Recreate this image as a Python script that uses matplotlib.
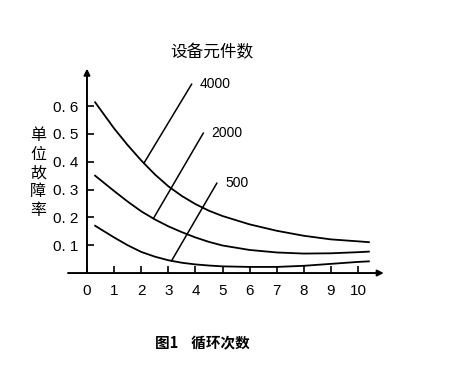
import matplotlib.pyplot as plt

plt.rcParams['font.family'] = ['Liberation Sans', 'Noto Sans CJK SC', 'DejaVu Sans']

# 循环次数 (x) and 单位故障率 for each 设备元件数 curve
x = [0.3, 1, 1.5, 2, 2.5, 3, 3.5, 4, 4.5, 5, 6, 7, 8, 9, 10, 10.4]
rate_4000 = [0.614, 0.52, 0.46, 0.405, 0.355, 0.312, 0.277, 0.248, 0.224, 0.205,
             0.175, 0.152, 0.134, 0.121, 0.114, 0.111]
rate_2000 = [0.35, 0.295, 0.257, 0.222, 0.193, 0.168, 0.147, 0.128, 0.112, 0.099,
             0.083, 0.074, 0.07, 0.071, 0.075, 0.077]
rate_500 = [0.17, 0.128, 0.1, 0.076, 0.059, 0.046, 0.037, 0.031, 0.027, 0.024,
            0.022, 0.022, 0.026, 0.033, 0.04, 0.042]

curve_names = ["4000", "2000", "500"]
# leader line: point on curve -> label end
leader_start = [(2.1, 0.395), (2.45, 0.196), (3.12, 0.044)]
leader_end = [(3.86, 0.679), (4.29, 0.503), (4.79, 0.323)]

xticks = list(range(11))
yticks = [0.1, 0.2, 0.3, 0.4, 0.5, 0.6]
ytick_labels = ["0. 1", "0. 2", "0. 3", "0. 4", "0. 5", "0. 6"]

fig = plt.figure(figsize=(4.59, 3.65), dpi=100)
ax = fig.add_axes([0.1307, 0.2329, 0.719, 0.589])
ax.set_xlim(-0.996, 11.18)
ax.set_ylim(-0.025, 0.748)

for spine in ax.spines.values():
    spine.set_visible(False)
ax.spines['left'].set_position(('data', 0))
ax.spines['bottom'].set_position(('data', 0))

# axes with arrows
ax.annotate("", xy=(0, 0.735), xytext=(0, 0),
            arrowprops=dict(arrowstyle='-|>', color='black', lw=1.4,
                            mutation_scale=9, shrinkA=0, shrinkB=0))
ax.annotate("", xy=(10.95, 0), xytext=(-0.7, 0),
            arrowprops=dict(arrowstyle='-|>', color='black', lw=1.4,
                            mutation_scale=9, shrinkA=0, shrinkB=0))

for ys in [rate_4000, rate_2000, rate_500]:
    ax.plot(x, ys, color='black', lw=1.3)

for name, s, e in zip(curve_names, leader_start, leader_end):
    ax.plot([s[0], e[0]], [s[1], e[1]], color='black', lw=1.1)
    ax.text(e[0] + 0.3, e[1], name, fontsize=10, ha='left', va='center')

ax.set_xticks(xticks)
ax.set_xticklabels([str(t) for t in xticks], fontsize=11)
ax.set_yticks(yticks)
ax.set_yticklabels(ytick_labels, fontsize=11)
ax.tick_params(axis='x', direction='in', length=5, width=1.2, pad=8)
ax.tick_params(axis='y', direction='in', length=5, width=1.2, pad=6)

fig.text(212 / 459, 1 - 53 / 365, "设备元件数", fontsize=12,
         ha='center', va='center', family=['Noto Sans CJK SC'])
fig.text(38 / 459, 1 - 173 / 365, "\n".join("单位故障率"), fontsize=11.5,
         ha='center', va='center', linespacing=1.15, family=['Noto Sans CJK SC'])
fig.text(155 / 459, 1 - 343 / 365, "图1    循环次数", fontsize=10.5,
         ha='left', va='center', fontweight='bold',
         family=['Noto Sans CJK SC', 'DejaVu Sans'])

fig.savefig("out.png", dpi=100)
